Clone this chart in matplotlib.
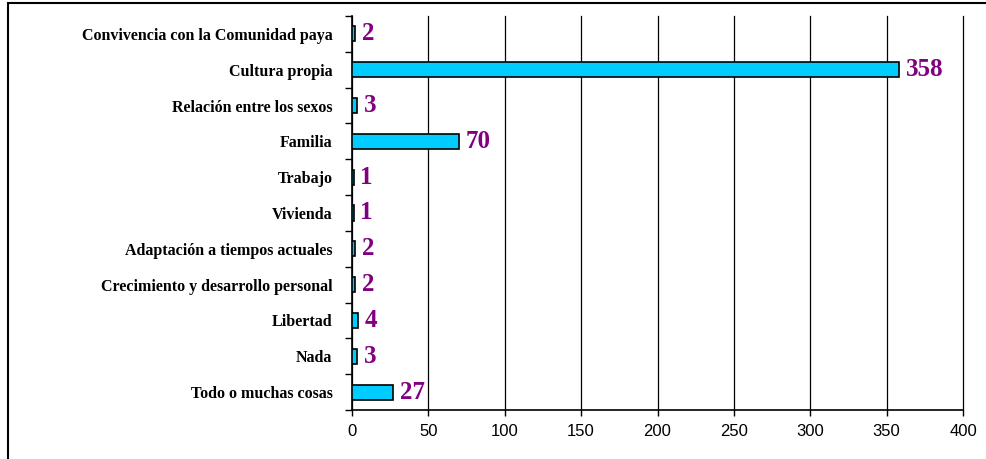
import matplotlib.pyplot as plt
from matplotlib.patches import Rectangle
from matplotlib.ticker import FixedLocator, NullFormatter

categorias = [
    "Convivencia con la Comunidad paya",
    "Cultura propia",
    "Relación entre los sexos",
    "Familia",
    "Trabajo",
    "Vivienda",
    "Adaptación a tiempos actuales",
    "Crecimiento y desarrollo personal",
    "Libertad",
    "Nada",
    "Todo o muchas cosas",
]
valores = [2, 358, 3, 70, 1, 1, 2, 2, 4, 3, 27]
ticks_x = [0, 50, 100, 150, 200, 250, 300, 350, 400]

fig = plt.figure(figsize=(9.86, 4.59), dpi=100)
ax = fig.add_axes([352 / 986, 1 - 410 / 459, 611 / 986, 394 / 459])

pos = list(range(len(categorias)))
ax.barh(pos, valores, height=0.42, color="#00CCFF", edgecolor="black", linewidth=1.2, zorder=3)

for y, v in zip(pos, valores):
    ax.annotate(str(v), xy=(v, y), xytext=(5, 0), textcoords="offset points",
                va="center", ha="left", color="#800080", fontsize=18,
                fontweight="bold", family="Liberation Serif", zorder=4)

ax.set_xlim(0, 400)
ax.set_ylim(len(categorias) - 0.5, -0.5)
ax.set_xticks(ticks_x)
ax.tick_params(axis="x", direction="out", length=4, width=1, labelsize=12, pad=6)
for lbl in ax.get_xticklabels():
    lbl.set_family("Liberation Sans")

# categorías como texto, marcas de eje entre categorías
ax.yaxis.set_major_locator(FixedLocator(pos))
ax.set_yticklabels(categorias, fontsize=11.5, fontweight="bold", family="Liberation Serif")
ax.tick_params(axis="y", which="major", length=0, pad=14)
ax.yaxis.set_minor_locator(FixedLocator([p - 0.5 for p in pos] + [len(pos) - 0.5]))
ax.yaxis.set_minor_formatter(NullFormatter())
ax.tick_params(axis="y", which="minor", direction="out", length=5, width=1)

ax.grid(axis="x", color="black", linewidth=0.9, zorder=0)
for gl in ax.get_xgridlines():
    gl.set_clip_on(False)
ax.spines["top"].set_visible(False)
ax.spines["right"].set_visible(False)
ax.spines["left"].set_linewidth(1.2)
ax.spines["bottom"].set_linewidth(1.2)

# marco exterior
fig.patches.append(Rectangle((8 / 986, -0.2), 1.2, 1.2 - 3 / 459, transform=fig.transFigure,
                             fill=False, edgecolor="black", linewidth=1.5))

fig.savefig("out.png", dpi=100)
